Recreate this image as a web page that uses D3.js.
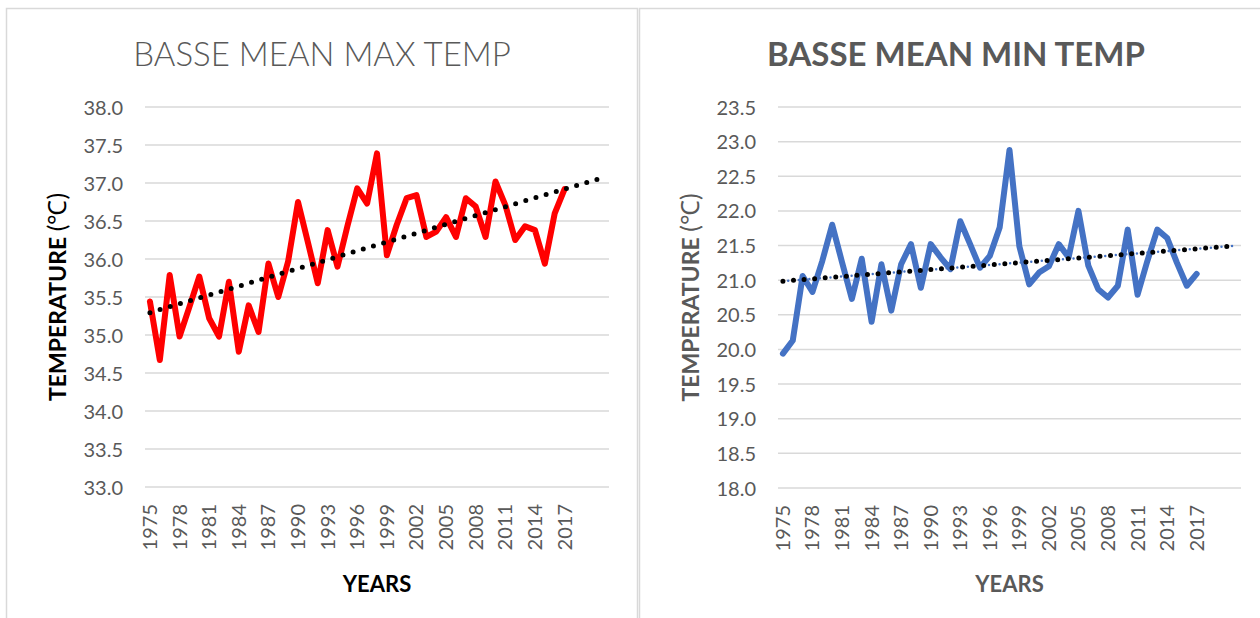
<!DOCTYPE html>
<html>
<head>
<meta charset="utf-8">
<script src="https://cdn.jsdelivr.net/npm/d3@7"></script>
<style>
  body { margin: 0; background: #fff; }
  text { font-family: Lato, "Open Sans", sans-serif; }
</style>
</head>
<body>
<div id="chart"></div>
<script>
// years with observations
var years = [1975, 1976, 1977, 1978, 1979, 1980, 1981, 1982, 1983, 1984,
  1985, 1986, 1987, 1988, 1989, 1990, 1991, 1992, 1993, 1994,
  1995, 1996, 1997, 1998, 1999, 2000, 2001, 2002, 2003, 2004,
  2005, 2006, 2007, 2008, 2009, 2010, 2011, 2012, 2013, 2014,
  2015, 2016, 2017]
// trendline forecast forward 4 periods (adds blank categories)
var forecastYears = [2018, 2019, 2020, 2021]
var yearLabels = [1975, 1978, 1981, 1984, 1987, 1990, 1993, 1996, 1999,
  2002, 2005, 2008, 2011, 2014, 2017]

var maxTemp = [35.44, 34.67, 35.79, 34.98, 35.37, 35.77, 35.22, 34.98, 35.70, 34.78,
  35.39, 35.04, 35.94, 35.50, 35.97, 36.75, 36.22, 35.68, 36.38, 35.90,
  36.43, 36.93, 36.73, 37.39, 36.05, 36.45, 36.80, 36.84, 36.29, 36.36,
  36.55, 36.29, 36.80, 36.69, 36.29, 37.02, 36.71, 36.25, 36.43, 36.38,
  35.94, 36.60, 36.92]

var minTemp = [19.94, 20.13, 21.06, 20.83, 21.28, 21.80, 21.26, 20.73, 21.31, 20.40,
  21.23, 20.56, 21.23, 21.52, 20.89, 21.52, 21.33, 21.16, 21.85, 21.52,
  21.18, 21.35, 21.76, 22.88, 21.49, 20.94, 21.11, 21.20, 21.52, 21.33,
  22.00, 21.21, 20.87, 20.75, 20.92, 21.73, 20.79, 21.28, 21.73, 21.61,
  21.25, 20.92, 21.09]

var maxTicks = [33.0, 33.5, 34.0, 34.5, 35.0, 35.5, 36.0, 36.5, 37.0, 37.5, 38.0]
var minTicks = [18.0, 18.5, 19.0, 19.5, 20.0, 20.5, 21.0, 21.5, 22.0, 22.5, 23.0, 23.5]

var width = 1260, height = 618

var svg = d3.select("#chart").append("svg")
  .attr("width", width)
  .attr("height", height)

// chart frames
svg.append("rect").attr("x", 6.5).attr("y", 8.5).attr("width", 631).attr("height", 640)
  .attr("fill", "none").attr("stroke", "#d9d9d9").attr("stroke-width", 1.5)
svg.append("rect").attr("x", 639.5).attr("y", 8.5).attr("width", 640).attr("height", 640)
  .attr("fill", "none").attr("stroke", "#d9d9d9").attr("stroke-width", 1.5)

drawChart({
  title: "BASSE MEAN MAX TEMP",
  titleWeight: 300,
  titleX: 322,
  titleColor: "#595959",
  axisColor: "#000",
  values: maxTemp,
  ticks: maxTicks,
  domain: [33, 38],
  left: 145, right: 609, top: 107, bottom: 487,
  lineColor: "#ff0000",
  yTitleX: 66,
  extraDots: false
})

drawChart({
  title: "BASSE MEAN MIN TEMP",
  titleWeight: 700,
  titleX: 956,
  titleColor: "#595959",
  axisColor: "#595959",
  values: minTemp,
  ticks: minTicks,
  domain: [18, 23.5],
  left: 778, right: 1241, top: 107, bottom: 488,
  lineColor: "#4472c4",
  yTitleX: 699,
  extraDots: true
})

function drawChart(c) {
  var g = svg.append("g")

  var x = d3.scaleBand()
    .domain(years.concat(forecastYears))
    .range([c.left, c.right])
  var y = d3.scaleLinear()
    .domain(c.domain)
    .range([c.bottom, c.top])

  function cx(yr) { return x(yr) + x.bandwidth() / 2 }

  // gridlines
  g.append("g").selectAll("line")
    .data(c.ticks)
    .enter().append("line")
    .attr("x1", c.left).attr("x2", c.right)
    .attr("y1", d => y(d)).attr("y2", d => y(d))
    .attr("stroke", "#d9d9d9").attr("stroke-width", 1.5)

  // y tick labels
  var yAxis = d3.axisLeft(y).tickValues(c.ticks).tickFormat(d3.format(".1f")).tickSize(0).tickPadding(0)
  var ya = g.append("g").attr("transform", `translate(${c.left - 22},0)`).call(yAxis)
  ya.select(".domain").remove()
  ya.selectAll("text").attr("fill", "#595959").style("font-size", "20px")
    .style("font-family", "Lato, sans-serif").attr("dy", "0.35em")

  // x tick labels (rotated)
  var xAxis = d3.axisBottom(x).tickValues(yearLabels).tickSize(0).tickPadding(0)
  var xa = g.append("g").attr("transform", `translate(0,${c.bottom})`).call(xAxis)
  xa.select(".domain").remove()
  xa.selectAll("text")
    .attr("fill", "#595959").style("font-size", "20px")
    .style("font-family", "Lato, sans-serif")
    .attr("text-anchor", "end")
    .attr("transform", "rotate(-90)")
    .attr("x", -17).attr("y", 0).attr("dy", "0.35em")

  // title
  g.append("text")
    .attr("x", c.titleX).attr("y", 66)
    .attr("text-anchor", "middle")
    .attr("fill", c.titleColor)
    .style("font-size", "33px")
    .style("font-weight", c.titleWeight)
    .text(c.title)

  // axis titles
  var yt = g.append("text")
    .attr("transform", `translate(${c.yTitleX},${(c.top + c.bottom) / 2}) rotate(-90)`)
    .attr("text-anchor", "middle")
    .attr("fill", c.axisColor)
    .style("font-size", "23px")
  yt.append("tspan").style("font-weight", 700).text("TEMPERATURE ")
  yt.append("tspan").style("font-weight", 400).style("font-size", "25px").text("(℃)")

  g.append("text")
    .attr("x", (c.left + c.right) / 2).attr("y", 592)
    .attr("text-anchor", "middle")
    .attr("fill", c.axisColor)
    .style("font-size", "22px")
    .style("font-weight", 700)
    .text("YEARS")

  // data line
  var pts = years.map((yr, i) => ({ year: yr, value: c.values[i] }))
  var line = d3.line().x(d => cx(d.year)).y(d => y(d.value))
  g.append("path")
    .datum(pts)
    .attr("d", line)
    .attr("fill", "none")
    .attr("stroke", c.lineColor)
    .attr("stroke-width", 6)
    .attr("stroke-linejoin", "round")
    .attr("stroke-linecap", "round")

  // linear trendline (least squares on period index)
  var mx = d3.mean(pts, (d, i) => i), my = d3.mean(pts, d => d.value)
  var sxy = d3.sum(pts, (d, i) => (i - mx) * (d.value - my))
  var sxx = d3.sum(pts, (d, i) => (i - mx) * (i - mx))
  var slope = sxy / sxx, icpt = my - slope * mx
  var allYears = years.concat(forecastYears)
  var trend = [
    { year: allYears[0], value: icpt },
    { year: allYears[allYears.length - 1], value: icpt + slope * (allYears.length - 1) }
  ]
  if (c.extraDots) {
    g.append("path").datum(trend).attr("d", line)
      .attr("fill", "none").attr("stroke", c.lineColor)
      .attr("stroke-width", 2.5).attr("stroke-linecap", "round")
      .attr("stroke-dasharray", "0 10.6").attr("stroke-dashoffset", -5.3)
  }
  g.append("path").datum(trend).attr("d", line)
    .attr("fill", "none").attr("stroke", "#000")
    .attr("stroke-width", 5).attr("stroke-linecap", "round")
    .attr("stroke-dasharray", "0 10.6")
}
</script>
</body>
</html>
